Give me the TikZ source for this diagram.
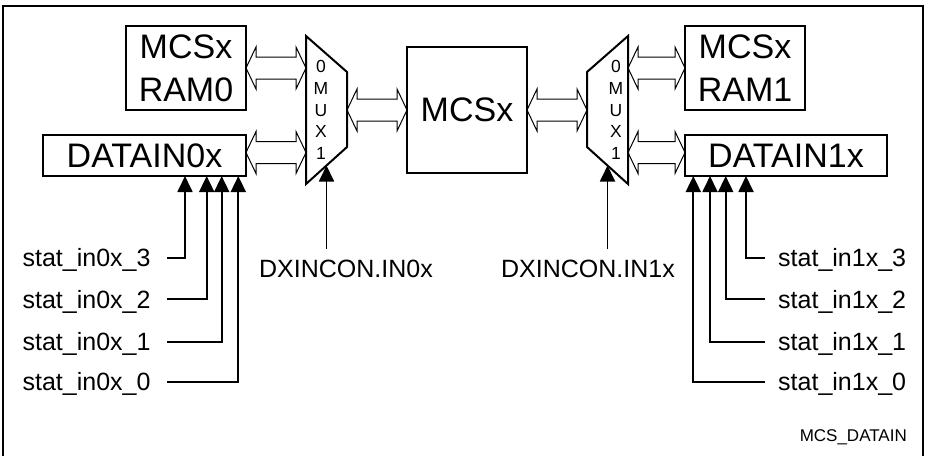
\documentclass[tikz,border=0pt]{standalone}
\usepackage{fontspec}
\setmainfont{Liberation Sans}
\usetikzlibrary{arrows.meta,positioning,calc}

% hollow bidirectional bus: left x point, right x point, y reference
\newcommand{\busarrow}[3]{%
  \draw[bus] let \p1=(#1), \p2=(#2), \p3=(#3) in
    (\x1,\y3) -- ++(10pt,21pt) -- ++(0pt,-10pt) -- (\x2-10pt,\y3+11pt)
    -- ++(0pt,10pt) -- (\x2,\y3) -- ++(-10pt,-21pt) -- ++(0pt,10pt)
    -- (\x1+10pt,\y3-11pt) -- ++(0pt,-10pt) -- cycle;}

\begin{document}
\begin{tikzpicture}[
  x=1pt, y=-1pt,
  blk/.style={
    draw, line width=2pt, inner sep=0pt, outer sep=0pt, align=center,
    font=\fontsize{34}{43}\selectfont
  },
  mux/.style={draw, line width=2pt, line join=miter},
  muxtxt/.style={font=\fontsize{17.5}{21.6}\selectfont, align=center, inner sep=0pt},
  bus/.style={line width=1pt, line join=miter},
  sig/.style={-{Triangle[length=16pt,width=15pt]}, line width=1.8pt},
  lbl/.style={font=\fontsize{25}{30}\selectfont, inner ysep=0pt,
              text height=18pt, text depth=0pt}
]
\useasboundingbox (0,0) rectangle (925,456);

% outer frame (bottom edge runs off the page)
\draw[line width=2.5pt] (3,456) -- (3,6) -- (923,6) -- (923,456);

% blocks
\node[blk, minimum width=120pt, minimum height=84pt] (ram0) at (186,68) {MCSx\\RAM0};
\node[blk, minimum width=203pt, minimum height=41pt] (dat0) at (144.5,155.5) {DATAIN0x};
\node[blk, minimum width=120pt, minimum height=126pt] (mcs) at (467,110) {MCSx};
\node[blk, minimum width=120pt, minimum height=84pt] (ram1) at (745,68) {MCSx\\RAM1};
\node[blk, minimum width=202pt, minimum height=41pt] (dat1) at (786,155.5) {DATAIN1x};

% multiplexers
\coordinate (m0tl) at (306,36);
\coordinate (m0tr) at (347,72);
\coordinate (m0br) at (347,147);
\coordinate (m0bl) at (306,184);
\draw[mux] (m0tl) -- (m0tr) -- (m0br) -- (m0bl) -- cycle;
\node[muxtxt] (mux0) at (321,110) {0\\M\\U\\X\\1};

\coordinate (m1tl) at (587,72);
\coordinate (m1tr) at (628,36);
\coordinate (m1br) at (628,184);
\coordinate (m1bl) at (587,147);
\draw[mux] (m1tl) -- (m1tr) -- (m1br) -- (m1bl) -- cycle;
\node[muxtxt] (mux1) at (616,110) {0\\M\\U\\X\\1};

% data buses
\busarrow{ram0.east}{m0tl}{ram0.east}
\busarrow{dat0.east}{m0tl}{[yshift=3pt]dat0.east}
\busarrow{m0tr}{mcs.west}{mcs.west}
\busarrow{mcs.east}{m1bl}{mcs.east}
\busarrow{m1tr}{ram1.west}{ram1.west}
\busarrow{m1tr}{dat1.west}{[yshift=3pt]dat1.west}

% select inputs
\coordinate (s0tip) at ($(m0br)!0.5!(m0bl)$);
\coordinate (s1tip) at ($(m1bl)!0.5!(m1br)$);
\node[lbl, inner ysep=10pt] (sel0) at (346,268) {DXINCON.IN0x};
\node[lbl, inner ysep=10pt] (sel1) at (588,268) {DXINCON.IN1x};
\draw[sig] (sel0.north -| s0tip) -- (s0tip);
\draw[sig] (sel1.north -| s1tip) -- (s1tip);

% status inputs, left
\node[lbl, anchor=east, inner xsep=16pt] (sin03) at (166.7,257.7) {stat\_in0x\_3};
\node[lbl, anchor=east, inner xsep=16pt] (sin02) at (166.7,299.3) {stat\_in0x\_2};
\node[lbl, anchor=east, inner xsep=16pt] (sin01) at (166.7,341.7) {stat\_in0x\_1};
\node[lbl, anchor=east, inner xsep=16pt] (sin00) at (166.7,381.7) {stat\_in0x\_0};
\draw[sig] (sin03.east) -| ([xshift=142pt]dat0.south west);
\draw[sig] (sin02.east) -| ([xshift=163.7pt]dat0.south west);
\draw[sig] (sin01.east) -| ([xshift=178.7pt]dat0.south west);
\draw[sig] (sin00.east) -| ([xshift=195.3pt]dat0.south west);

% status inputs, right
\node[lbl, anchor=west, inner xsep=13pt] (sin13) at (765,257.7) {stat\_in1x\_3};
\node[lbl, anchor=west, inner xsep=13pt] (sin12) at (765,299.3) {stat\_in1x\_2};
\node[lbl, anchor=west, inner xsep=13pt] (sin11) at (765,341.7) {stat\_in1x\_1};
\node[lbl, anchor=west, inner xsep=13pt] (sin10) at (765,381.7) {stat\_in1x\_0};
\draw[sig] (sin13.west) -| ([xshift=-141pt]dat1.south east);
\draw[sig] (sin12.west) -| ([xshift=-161.3pt]dat1.south east);
\draw[sig] (sin11.west) -| ([xshift=-177pt]dat1.south east);
\draw[sig] (sin10.west) -| ([xshift=-193.7pt]dat1.south east);

% figure tag
\node[font=\fontsize{17}{20}\selectfont, anchor=base east, inner sep=0pt] (tag) at (907,441) {MCS\_DATAIN};

\end{tikzpicture}
\end{document}
